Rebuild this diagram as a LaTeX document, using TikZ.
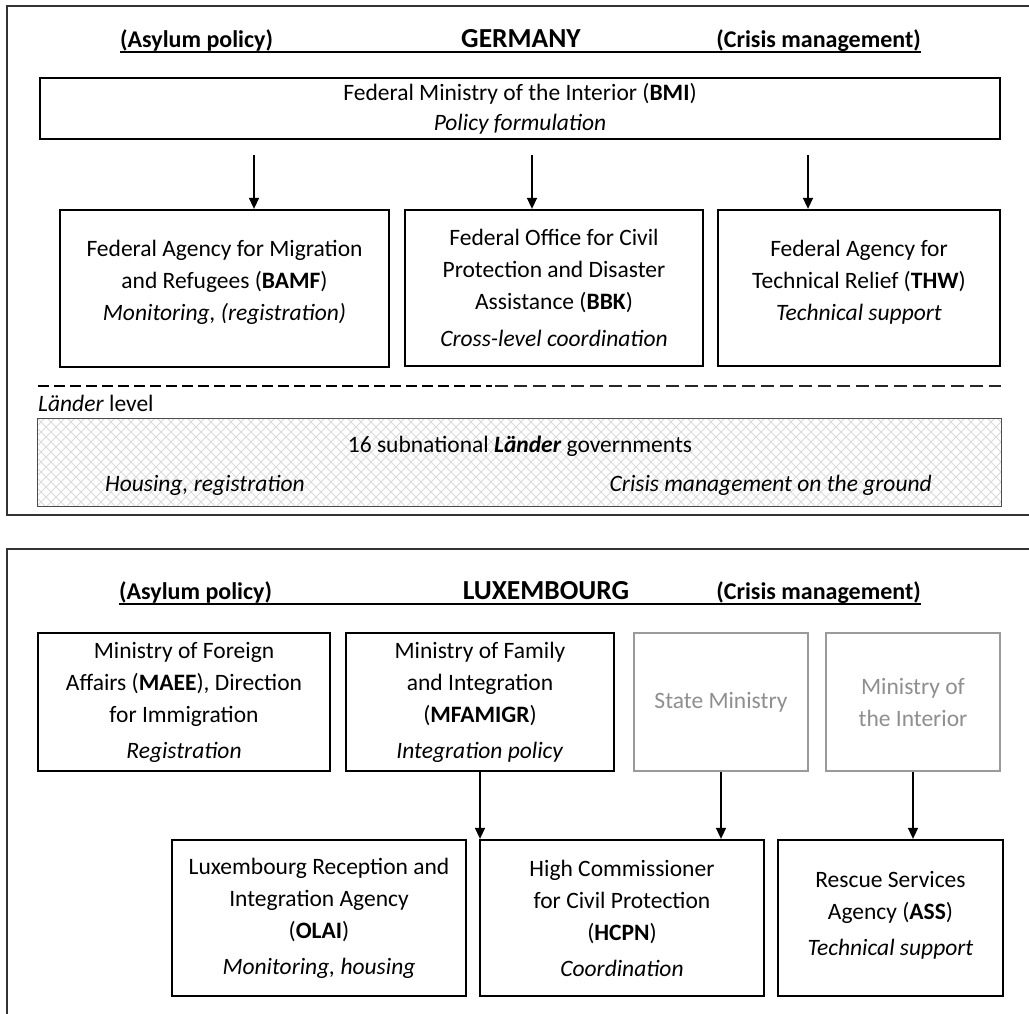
\documentclass[tikz,border=0pt]{standalone}
\usepackage{fontspec}
\setmainfont{Carlito}
\usetikzlibrary{arrows.meta}
\definecolor{framecol}{HTML}{333333}
\definecolor{greyline}{HTML}{9A9A9A}
\definecolor{greytext}{HTML}{8F8F8F}
\definecolor{hatchcol}{HTML}{DADADA}
\newcommand\txtsz{\fontsize{23.5}{32}\selectfont}
\newcommand\headsz{\fontsize{24}{30}\selectfont}
\newcommand\titlesz{\fontsize{27.5}{30}\selectfont}
\newcommand\up[1]{\rule[-#1]{0pt}{0pt}}
\begin{document}
\begin{tikzpicture}[x=1pt,y=-1pt,
  panel/.style={draw=framecol,line width=2pt},
  box/.style={draw=black,line width=2.3pt,align=center,inner sep=0pt,font=\txtsz},
  greybox/.style={draw=greyline,line width=2.3pt,align=center,inner sep=0pt,font=\txtsz,text=greytext},
  head/.style={font=\headsz\bfseries,inner sep=0pt},
  title/.style={font=\titlesz\bfseries,inner sep=0pt},
  uline/.style={draw=black,line width=2.2pt},
  arr/.style={draw=black,line width=1.5pt,-{Triangle[width=10pt,length=11pt]}},
  hatch/.style={draw=hatchcol,line width=1pt},
  lbl/.style={font=\txtsz,inner sep=0pt}
]
\useasboundingbox (0,0) rectangle (1029,1013);
\clip (0,0) rectangle (1029,1013);
\fill[white] (0,0) rectangle (1029,1013);

% ---------- GERMANY ----------
\draw[panel] (7,6) rectangle (1045,515);
\node[head,anchor=base west] (gasyl) at (120,47) {(Asylum policy)};
\node[title,anchor=base] (gtitle) at (521,47) {GERMANY};
\node[head,anchor=base east] (gcris) at (921,47) {(Crisis management)};
\draw[uline] (120,52) -- (921,52);

\node[box,minimum width=960pt,minimum height=61pt] (bmi) at (520,108.5)
  {Federal Ministry of the Interior (\textbf{BMI})\\[-2pt] \textit{Policy formulation}};

\node[box,minimum width=329pt,minimum height=157pt] (bamf) at (224.5,288.5)
  {Federal Agency for Migration\\ and Refugees (\textbf{BAMF})\\ \textit{Monitoring, (registration)}\up{16pt}};
\node[box,minimum width=298pt,minimum height=156pt] (bbk) at (554,288)
  {Federal Office for Civil\\ Protection and Disaster\\ Assistance (\textbf{BBK})\\[5pt] \textit{Cross-level coordination}};
\node[box,minimum width=282pt,minimum height=156pt] (thw) at (859,288)
  {Federal Agency for\\ Technical Relief (\textbf{THW})\\ \textit{Technical support}\up{16pt}};

\draw[arr,shorten <=15pt] ([xshift=29.5pt]bamf.north |- bmi.south) -- ([xshift=29.5pt]bamf.north);
\draw[arr,shorten <=15pt] ([xshift=-22pt]bbk.north |- bmi.south) -- ([xshift=-22pt]bbk.north);
\draw[arr,shorten <=15pt] ([xshift=-51pt]thw.north |- bmi.south) -- ([xshift=-51pt]thw.north);

\draw[draw=black,line width=2pt,dash pattern=on 11pt off 5pt] (38,386) -- (492,386);
\draw[draw=black!85,line width=1.5pt,dash pattern=on 13pt off 6pt] (495,386) -- (1001,386);
\node[lbl,anchor=base west] (llevel) at (38,411) {\textit{Länder} level};

\node[draw=black!70,line width=1pt,minimum width=964pt,minimum height=88pt,inner sep=0pt,
  path picture={
    \foreach \k in {-100,-90,...,1000}{
      \draw[hatch] ([xshift=\k pt]path picture bounding box.north west) -- ++(100,100);
      \draw[hatch] ([xshift=\k pt]path picture bounding box.south west) -- ++(100,-100);
    }
  }] (laender) at (519,462) {};
\node[lbl,anchor=base] (lgov) at (520,452) {16 subnational \textbf{\textit{Länder}} governments};
\node[lbl,anchor=base west] (lhous) at (105,491) {\textit{Housing, registration}};
\node[lbl,anchor=base east] (lcris) at (932,491) {\textit{Crisis management on the ground}};

% ---------- LUXEMBOURG ----------
\draw[panel] (7,549) rectangle (1045,1040);
\node[head,anchor=base west] (lasyl) at (119,599) {(Asylum policy)};
\node[title,anchor=base] (ltitle) at (546,599) {LUXEMBOURG};
\node[head,anchor=base east] (lcrm) at (921,599) {(Crisis management)};
\draw[uline] (119,604) -- (921,604);

\node[box,minimum width=292pt,minimum height=138pt] (maee) at (184,702)
  {Ministry of Foreign\\ Affairs (\textbf{MAEE}), Direction\\ for Immigration\\[4pt] \textit{Registration}};
\node[box,minimum width=268pt,minimum height=138pt] (mfa) at (480,702)
  {Ministry of Family\\ and Integration\\ (\textbf{MFAMIGR})\\[4pt] \textit{Integration policy}};
\node[greybox,minimum width=174pt,minimum height=138pt] (state) at (721,702)
  {State Ministry};
\node[greybox,minimum width=174pt,minimum height=138pt] (mint) at (913,702)
  {Ministry of\\ the Interior};

\node[box,minimum width=294pt,minimum height=156pt] (olai) at (319,918)
  {Luxembourg Reception and\\ Integration Agency\\ (\textbf{OLAI})\\[4pt] \textit{Monitoring, housing}};
\node[box,minimum width=284pt,minimum height=156pt] (hcpn) at (622,918)
  {High Commissioner\\ for Civil Protection\\ (\textbf{HCPN})\\[4pt] \textit{Coordination}};
\node[box,minimum width=225pt,minimum height=156pt] (ass) at (890.5,918)
  {Rescue Services\\ Agency (\textbf{ASS})\\[4pt] \textit{Technical support}\up{10pt}};

\draw[arr] (mfa.south) -- (mfa.south |- olai.north);
\draw[arr] (state.south) -- (state.south |- hcpn.north);
\draw[arr] (mint.south) -- (mint.south |- ass.north);
\end{tikzpicture}
\end{document}
